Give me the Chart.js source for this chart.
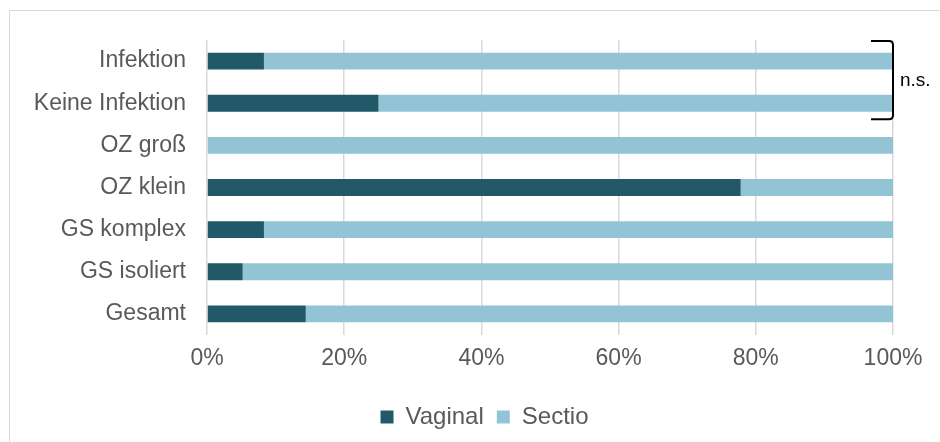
<!DOCTYPE html>
<html>
<head>
<meta charset="utf-8">
<script src="https://cdn.jsdelivr.net/npm/chart.js@4/dist/chart.umd.min.js"></script>
<style>
    html, body { margin: 0; padding: 0; background: #fff; overflow: hidden; }
    #wrap { position: relative; width: 940px; height: 442px; overflow: hidden; }
    #frame {
        position: absolute; left: 9px; top: 10px;
        width: 960px; height: 460px;
        border-left: 1.5px solid #d9d9d9;
        border-top: 1.5px solid #d9d9d9;
        box-sizing: border-box;
        pointer-events: none;
    }
    canvas { position: absolute; left: 0; top: 0; }
</style>
</head>
<body>
<div id="wrap">
    <canvas id="chart" width="940" height="442"></canvas>
    <div id="frame"></div>
</div>
<script>
// Categories, top to bottom
const categories = ['Infektion', 'Keine Infektion', 'OZ groß', 'OZ klein', 'GS komplex', 'GS isoliert', 'Gesamt'];

// Share of deliveries in percent
const vaginal = [8.3, 25.0, 0, 77.8, 8.3, 5.2, 14.4];
const sectio = [91.7, 75.0, 100, 22.2, 91.7, 94.8, 85.6];

const xTicks = [0, 20, 40, 60, 80, 100];

const textGray = '#595959';
const gridGray = '#d9d9d9';

// Bracket with "n.s." next to the first two bars
const bracketPlugin = {
    id: 'bracket',
    afterDraw(chart) {
        const ctx = chart.ctx;
        const x = chart.scales.x.getPixelForValue(100);
        const y = chart.scales.y;
        const top = y.getPixelForValue(0) - 20;
        const bottom = y.getPixelForValue(1) + 16;
        const r = 4;

        ctx.save();
        ctx.strokeStyle = '#000';
        ctx.lineWidth = 2;
        ctx.beginPath();
        ctx.moveTo(x - 22, top);
        ctx.lineTo(x - r, top);
        ctx.quadraticCurveTo(x, top, x, top + r);
        ctx.lineTo(x, bottom - r);
        ctx.quadraticCurveTo(x, bottom, x - r, bottom);
        ctx.lineTo(x - 22, bottom);
        ctx.stroke();

        ctx.fillStyle = '#000';
        ctx.font = '19px "Liberation Sans", Arial, sans-serif';
        ctx.textAlign = 'left';
        ctx.textBaseline = 'middle';
        ctx.fillText('n.s.', x + 7, (top + bottom) / 2 + 1);
        ctx.restore();
    }
};

// The legend sits centred under the whole frame, not only the plot
const legendShift = {
    id: 'legendShift',
    afterLayout(chart) {
        chart.legend.left += 38;
        chart.legend.right += 38;
    }
};

Chart.defaults.font.family = '"Liberation Sans", Arial, sans-serif';
Chart.defaults.color = textGray;

new Chart(document.getElementById('chart').getContext('2d'), {
    type: 'bar',
    data: {
        labels: categories,
        datasets: [
            {
                label: 'Vaginal',
                data: vaginal,
                backgroundColor: '#215968',
                categoryPercentage: 1,
                barPercentage: 0.4
            },
            {
                label: 'Sectio',
                data: sectio,
                backgroundColor: '#93c4d6',
                categoryPercentage: 1,
                barPercentage: 0.4
            }
        ]
    },
    options: {
        indexAxis: 'y',
        responsive: false,
        animation: false,
        layout: {
            padding: { top: 40, right: 47, left: 0, bottom: 3 }
        },
        scales: {
            x: {
                stacked: true,
                min: 0,
                max: 100,
                afterBuildTicks(scale) {
                    scale.ticks = xTicks.map(v => ({ value: v }));
                },
                afterFit(scale) {
                    scale.height = 57;
                },
                grid: {
                    color: gridGray,
                    lineWidth: 1.5,
                    drawTicks: false
                },
                border: { display: false },
                ticks: {
                    padding: 10,
                    color: textGray,
                    font: { size: 23 },
                    callback: v => v + '%'
                }
            },
            y: {
                stacked: true,
                afterFit(scale) {
                    scale.width = 207;
                },
                grid: { display: false, drawTicks: false },
                border: { display: false },
                ticks: {
                    padding: 21,
                    color: textGray,
                    font: { size: 23 }
                }
            }
        },
        plugins: {
            legend: {
                position: 'bottom',
                labels: {
                    boxWidth: 13,
                    boxHeight: 13,
                    padding: 13,
                    color: textGray,
                    font: { size: 24 }
                }
            },
            tooltip: { enabled: false }
        }
    },
    plugins: [bracketPlugin, legendShift]
});
</script>
</body>
</html>
